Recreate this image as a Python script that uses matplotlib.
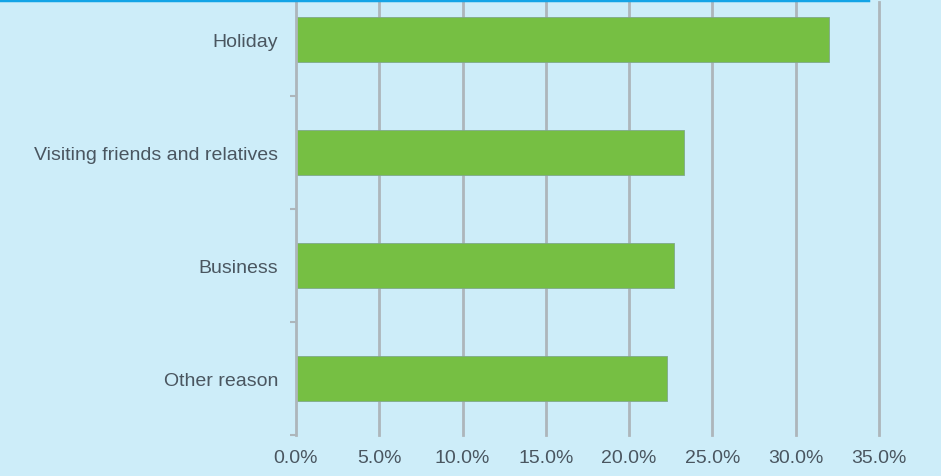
import numpy as np
import matplotlib
matplotlib.use('Agg')
import matplotlib.pyplot as plt
from matplotlib.lines import Line2D

# data (share of trips, %)
reasons = ['Other reason', 'Business', 'Visiting friends and relatives', 'Holiday']
shares = [22.3, 22.7, 23.3, 32.0]
xticks = [0, 5, 10, 15, 20, 25, 30, 35]

bg = '#cdedf9'
grid_c = '#adb6bb'
txt_c = '#4a5660'

plt.rcParams['font.family'] = ['Liberation Sans', 'DejaVu Sans']

fig = plt.figure(figsize=(9.41, 4.77), dpi=100, facecolor=bg)
W, H = 941, 477
ax = fig.add_axes([296 / W, (H - 436) / H, (879 - 296) / W, (436 - 3) / H])
ax.set_facecolor(bg)

y = np.arange(len(reasons))
ax.barh(y, shares, height=0.4, color='#76bf43', edgecolor='#7fa98a', linewidth=0.6, zorder=3)

ax.set_xlim(0, 35)
ax.set_ylim(-0.5, 3.33)
ax.set_xticks(xticks)
ax.set_xticklabels(['%.1f%%' % v for v in xticks])
ax.set_yticks(y)
ax.set_yticklabels(reasons)
ax.set_yticks(np.arange(-0.5, 3.0, 1.0), minor=True)

for v in xticks[1:]:
    ax.axvline(v, color=grid_c, lw=2, zorder=1, clip_on=False)

for s in ['top', 'right', 'bottom']:
    ax.spines[s].set_visible(False)
ax.spines['left'].set_color(grid_c)
ax.spines['left'].set_linewidth(2)
ax.spines['left'].set_zorder(4)

ax.tick_params(axis='x', length=0, pad=10, labelsize=14, labelcolor=txt_c)
ax.tick_params(axis='y', which='major', length=0, pad=13, labelsize=14, labelcolor=txt_c)
ax.tick_params(axis='y', which='minor', length=4, width=1.5, color=grid_c)

# thin blue frame line along the top edge
fig.add_artist(Line2D([0, 868 / W], [1 - 1 / H, 1 - 1 / H], color='#14a4e6', lw=2.5,
                      transform=fig.transFigure))

fig.savefig('out.png', dpi=100, facecolor=bg)
